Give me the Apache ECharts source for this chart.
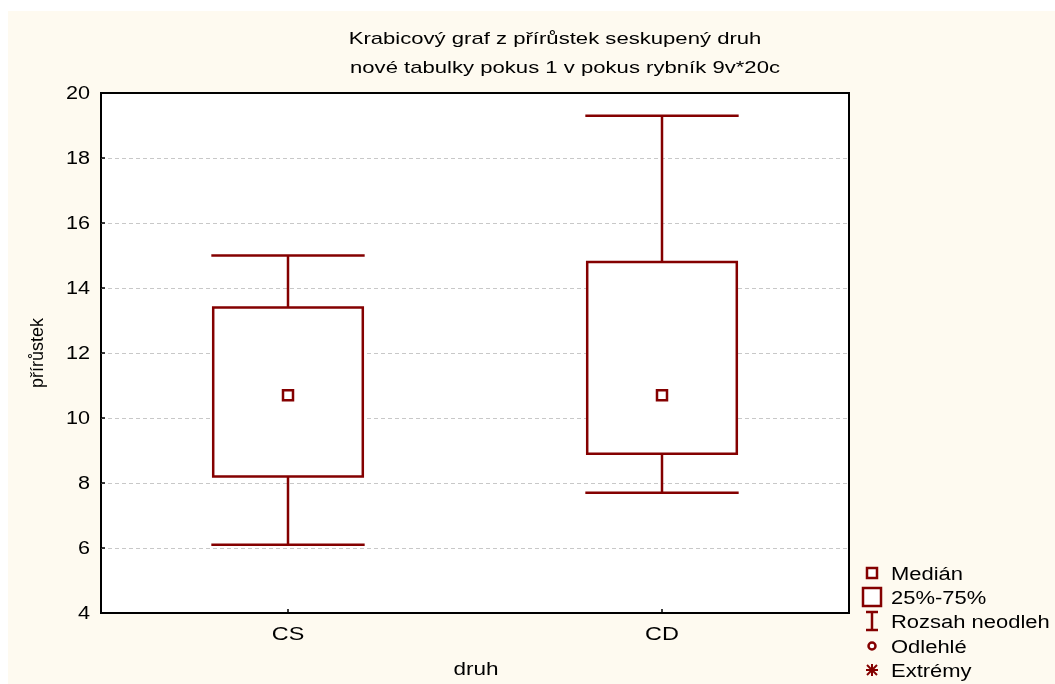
<!DOCTYPE html>
<html><head><meta charset="utf-8">
<script src="https://cdn.jsdelivr.net/npm/echarts@6/dist/echarts.min.js"></script>
<style>html,body{margin:0;padding:0;background:#fff}#c{width:1055px;height:684px}</style>
</head><body><div id="c"></div>
<script>
const categories = ['CS', 'CD'];
const whiskerLow = [6.1, 7.7];
const q1 = [8.2, 8.9];
const median = [10.7, 10.7];
const q3 = [13.4, 14.8];
const whiskerHigh = [15.0, 19.3];
const yTicks = [4, 6, 8, 10, 12, 14, 16, 18, 20];
const legendLabels = ['Medián', '25%-75%', 'Rozsah neodleh', 'Odlehlé', 'Extrémy'];
const titleLines = ['Krabicový graf z přírůstek seskupený druh', 'nové tabulky pokus 1 v pokus rybník 9v*20c'];

const RED = '#840000';
const FONT = '"Liberation Sans", Arial, sans-serif';
const data = categories.map((c, i) => [i, whiskerLow[i], q1[i], median[i], q3[i], whiskerHigh[i]]);

const chart = echarts.init(document.getElementById('c'));

function txt(t, x, y, align, size, sx) {
  return {type:'text', x:x, y:y, scaleX:sx, style:{text:t, font:size + 'px ' + FONT, fill:'#000', textAlign:align, textVerticalAlign:'middle'}};
}

const legendY = [573, 597, 621, 646, 670];
const lx = 872;
const legendGraphics = [];
legendGraphics.push({type:'rect', shape:{x:lx-5, y:legendY[0]-5, width:10, height:10}, style:{fill:'#fff', stroke:RED, lineWidth:2.5}});
legendGraphics.push({type:'rect', shape:{x:lx-9, y:legendY[1]-9, width:18, height:18}, style:{fill:'#fff', stroke:RED, lineWidth:2.5}});
legendGraphics.push({type:'line', shape:{x1:lx, y1:legendY[2]-9, x2:lx, y2:legendY[2]+9}, style:{stroke:RED, lineWidth:2.5}});
legendGraphics.push({type:'line', shape:{x1:lx-6, y1:legendY[2]-9, x2:lx+6, y2:legendY[2]-9}, style:{stroke:RED, lineWidth:2.5}});
legendGraphics.push({type:'line', shape:{x1:lx-6, y1:legendY[2]+9, x2:lx+6, y2:legendY[2]+9}, style:{stroke:RED, lineWidth:2.5}});
legendGraphics.push({type:'circle', shape:{cx:lx, cy:legendY[3], r:3.5}, style:{fill:'#fff', stroke:RED, lineWidth:2.5}});
legendGraphics.push({type:'line', shape:{x1:lx-6, y1:legendY[4], x2:lx+6, y2:legendY[4]}, style:{stroke:RED, lineWidth:2}});
legendGraphics.push({type:'line', shape:{x1:lx, y1:legendY[4]-6, x2:lx, y2:legendY[4]+6}, style:{stroke:RED, lineWidth:2}});
legendGraphics.push({type:'line', shape:{x1:lx-5, y1:legendY[4]-5, x2:lx+5, y2:legendY[4]+5}, style:{stroke:RED, lineWidth:2}});
legendGraphics.push({type:'line', shape:{x1:lx-5, y1:legendY[4]+5, x2:lx+5, y2:legendY[4]-5}, style:{stroke:RED, lineWidth:2}});
legendLabels.forEach((t, i) => legendGraphics.push(txt(t, 891, legendY[i] + 2, 'left', 18, 1.22)));

const baseGraphics = [
  {type:'rect', z:-10, shape:{x:8, y:11, width:1047, height:673}, style:{fill:'#FEFAF0'}},
  txt(titleLines[0], 555, 39, 'center', 17, 1.3),
  txt(titleLines[1], 565, 68, 'center', 17, 1.3),
  txt('druh', 476, 670, 'center', 18, 1.25),
  ...legendGraphics
];

chart.setOption({
  animation: false,
  backgroundColor: '#fff',
  graphic: baseGraphics,
  grid: {left: 101, top: 93, right: 206, bottom: 71, show: true, backgroundColor: '#fff', borderColor: '#000', borderWidth: 2},
  xAxis: {
    type: 'category', data: categories, boundaryGap: true,
    axisLine: {show: false},
    axisTick: {show: true, inside: true, alignWithLabel: true, length: 4, lineStyle: {color: '#000', width: 1.5}},
    axisLabel: {show: false},
    splitLine: {show: false}
  },
  yAxis: {
    type: 'value', min: 4, max: 20, interval: 2,
    name: 'přírůstek', nameLocation: 'middle', nameGap: 54, nameRotate: 90,
    nameTextStyle: {fontSize: 18, fontFamily: FONT, color: '#000'},
    axisLine: {show: false},
    axisTick: {show: true, inside: true, length: 4, lineStyle: {color: '#000', width: 1.5}},
    axisLabel: {show: false},
    splitLine: {show: true, showMinLine: false, showMaxLine: false, lineStyle: {color: '#c8c8c8', type: [4, 3], width: 1}}
  },
  series: [{
    type: 'custom',
    data: data,
    encode: {x: 0, y: [1, 2, 3, 4, 5]},
    renderItem: function (params, api) {
      const xi = api.value(0);
      const pLow = api.coord([xi, api.value(1)]);
      const pQ1 = api.coord([xi, api.value(2)]);
      const pMed = api.coord([xi, api.value(3)]);
      const pQ3 = api.coord([xi, api.value(4)]);
      const pHigh = api.coord([xi, api.value(5)]);
      const band = api.size([1, 0])[0];
      const bw = band * 0.4;
      const cw = band * 0.205;
      const cx = pMed[0];
      const ls = {stroke: RED, lineWidth: 2.5, fill: null};
      return {
        type: 'group',
        children: [
          {type:'line', shape:{x1:cx, y1:pHigh[1], x2:cx, y2:pQ3[1]}, style:ls},
          {type:'line', shape:{x1:cx, y1:pLow[1], x2:cx, y2:pQ1[1]}, style:ls},
          {type:'line', shape:{x1:cx-cw, y1:pHigh[1], x2:cx+cw, y2:pHigh[1]}, style:ls},
          {type:'line', shape:{x1:cx-cw, y1:pLow[1], x2:cx+cw, y2:pLow[1]}, style:ls},
          {type:'rect', shape:{x:cx-bw/2, y:pQ3[1], width:bw, height:pQ1[1]-pQ3[1]}, style:{stroke:RED, lineWidth:2.5, fill:'#fff'}},
          {type:'rect', shape:{x:cx-5, y:pMed[1]-5, width:10, height:10}, style:{stroke:RED, lineWidth:2.5, fill:'#fff'}}
        ]
      };
    }
  }]
});

// axis tick labels placed through the axes' own scales
const labelGraphics = [];
categories.forEach(c => {
  const px = chart.convertToPixel({xAxisIndex: 0}, c);
  labelGraphics.push(txt(c, px, 635, 'center', 18, 1.3));
});
yTicks.forEach(v => {
  const py = chart.convertToPixel({yAxisIndex: 0}, v);
  labelGraphics.push(txt(String(v), 90, py + 1, 'right', 18, 1.2));
});
chart.setOption({graphic: baseGraphics.concat(labelGraphics)}, {replaceMerge: ['graphic']});
</script></body></html>
